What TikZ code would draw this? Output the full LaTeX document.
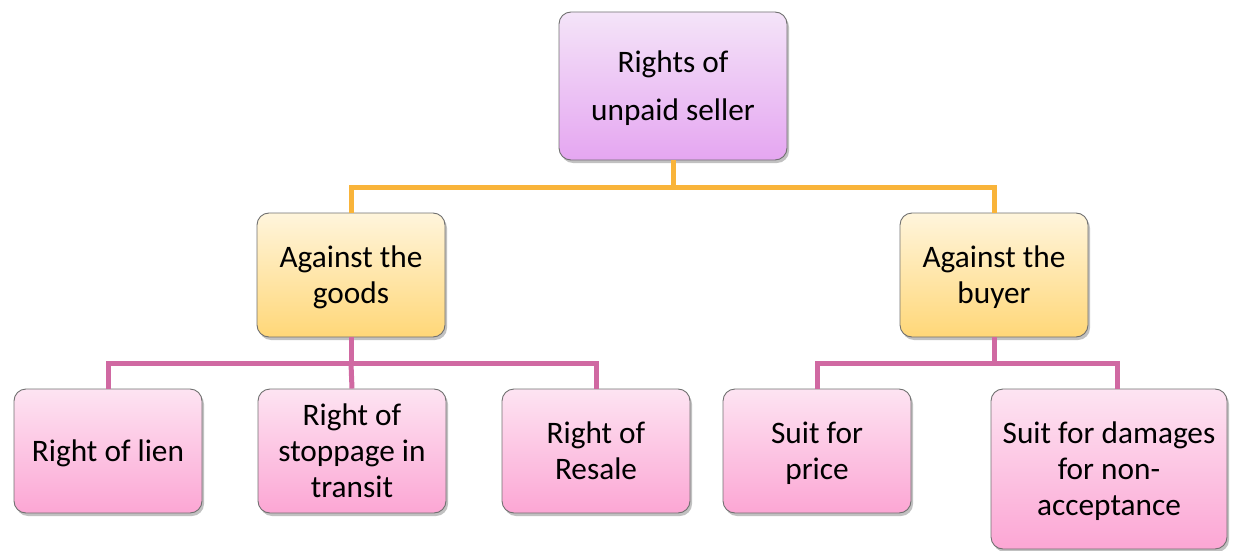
\documentclass[tikz,border=0pt]{standalone}
\usepackage{fontspec}
\setmainfont{Carlito}
\usetikzlibrary{shadows}

\definecolor{rootTop}{HTML}{F4E4F8}
\definecolor{rootBot}{HTML}{E5A6F1}
\definecolor{midTop}{HTML}{FFF5DC}
\definecolor{midBot}{HTML}{FFD778}
\definecolor{leafTop}{HTML}{FDE4F2}
\definecolor{leafBot}{HTML}{FCA6D4}
\definecolor{edgeGrey}{HTML}{707070}
\definecolor{linkOrange}{HTML}{F9B43A}
\definecolor{linkPink}{HTML}{D069A2}

\tikzset{
  box/.style={draw=edgeGrey, line width=0.9pt, rounded corners=12pt,
    inner sep=0pt, align=center, text depth=0pt,
    font=\fontsize{31.3pt}{36pt}\selectfont,
    drop shadow={shadow xshift=2pt, shadow yshift=-3pt, opacity=0.35, fill=black!70}},
  rootbox/.style={box, top color=rootTop, bottom color=rootBot,
    font=\fontsize{31.3pt}{48pt}\selectfont},
  midbox/.style={box, top color=midTop, bottom color=midBot},
  leafbox/.style={box, top color=leafTop, bottom color=leafBot},
  orangelink/.style={draw=linkOrange, line width=5pt},
  pinklink/.style={draw=linkPink, line width=5pt},
}

\begin{document}
\begin{tikzpicture}[x=1pt, y=-1pt]
  \useasboundingbox (0,0) rectangle (1248,551);

  % root
  \node[rootbox, minimum width=228pt, minimum height=148pt] (root) at (673,86)
    {Rights of\\unpaid seller};

  % second level
  \node[midbox, minimum width=188pt, minimum height=124pt] (goods) at (351,275)
    {Against the\\goods};
  \node[midbox, minimum width=188pt, minimum height=124pt] (buyer) at (994,275)
    {Against the\\buyer};

  % third level
  \node[leafbox, minimum width=188pt, minimum height=124pt] (lien) at (108,451)
    {Right of lien};
  \node[leafbox, minimum width=188pt, minimum height=124pt] (stop) at (352,451)
    {Right of\\stoppage in\\transit};
  \node[leafbox, minimum width=188pt, minimum height=124pt] (resale) at (596,451)
    {Right of\\Resale};
  \node[leafbox, minimum width=188pt, minimum height=124pt] (price) at (817,451)
    {Suit for\\price};
  \node[leafbox, minimum width=236pt, minimum height=160pt] (damages) at (1109,469)
    {Suit for damages\\for non-\\acceptance};

  \coordinate (dmgin) at (1117,389);

  % connectors: root to second level
  \draw[orangelink] (root.south) -- ++(0,27) coordinate (rj);
  \draw[orangelink, line join=miter] (goods.north) |- (rj) -| (buyer.north);

  % connectors: goods to its leaves
  \draw[pinklink] (goods.south) -- ++(0,26) coordinate (gj);
  \draw[pinklink, line join=miter] (lien.north) |- (gj) -| (resale.north);
  \draw[pinklink] (gj) -- (stop.north);

  % connectors: buyer to its leaves
  \draw[pinklink] (buyer.south) -- ++(0,26) coordinate (bj);
  \draw[pinklink, line join=miter] (price.north) |- (bj) -| (dmgin);
\end{tikzpicture}
\end{document}
